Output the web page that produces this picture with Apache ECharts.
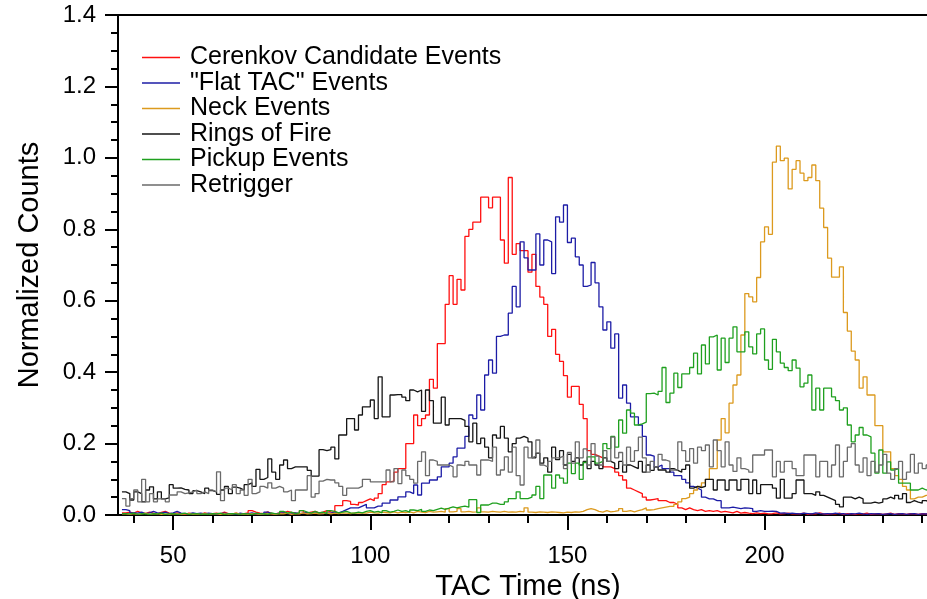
<!DOCTYPE html>
<html>
<head>
<meta charset="utf-8">
<script src="https://cdn.jsdelivr.net/npm/echarts@6/dist/echarts.min.js"></script>
<style>html,body{margin:0;padding:0;background:#fff}#c{width:927px;height:599px}</style>
</head>
<body>
<div id="c"></div>
<script>
// Histogram bins: 1 ns wide, first bin starts at 37 ns
const firstBin = 37;
const seriesNames = ['Cerenkov Candidate Events', '"Flat TAC" Events', 'Neck Events', 'Rings of Fire', 'Pickup Events', 'Retrigger'];
const xMajorTicks = [50, 100, 150, 200];
const xMinorTicks = [40, 60, 70, 80, 90, 110, 120, 130, 140, 160, 170, 180, 190, 210, 220, 230, 240];

const cerenkov = [
0.006,0.008,0.005,0.010,0.006,0.004,0.008,0.005,0.004,0.007,
0.010,0.005,0.003,0.006,0.004,0.002,0.005,0.003,0.004,0.002,
0.006,0.003,0.004,0.005,0.003,0.008,0.004,0.003,0.005,0.002,
0.004,0.006,0.012,0.008,0.005,0.004,0.009,0.004,0.003,0.006,
0.005,0.010,0.007,0.005,0.004,0.012,0.006,0.008,0.010,0.006,
0.008,0.012,0.009,0.007,0.026,0.026,0.040,0.038,0.030,0.028,
0.035,0.040,0.045,0.040,0.047,0.060,0.085,0.093,0.095,0.120,
0.130,0.130,0.200,0.200,0.280,0.250,0.270,0.280,0.380,0.355,
0.480,0.480,0.590,0.670,0.590,0.660,0.630,0.780,0.800,0.820,
0.820,0.890,0.890,0.860,0.890,0.890,0.770,0.705,0.945,0.730,
0.760,0.740,0.740,0.680,0.730,0.640,0.610,0.590,0.500,0.520,
0.450,0.430,0.390,0.330,0.360,0.360,0.310,0.270,0.180,0.170,
0.165,0.160,0.135,0.135,0.130,0.120,0.110,0.098,0.075,0.070,
0.065,0.060,0.050,0.042,0.044,0.046,0.040,0.040,0.035,0.035,
0.030,0.020,0.015,0.020,0.015,0.012,0.015,0.010,0.012,0.010,
0.012,0.008,0.010,0.008,0.006,0.010,0.005,0.007,0.005,0.004,
0.006,0.004,0.005,0.003,0.004,0.006,0.003,0.004,0.005,0.003,
0.004,0.003,0.005,0.002,0.004,0.003,0.006,0.003,0.002,0.004,
0.003,0.005,0.002,0.004,0.003,0.002,0.004,0.003,0.005,0.002,
0.003,0.004,0.002,0.003,0.005,0.002,0.004,0.003,0.002,0.004,
0.003,0.002,0.004,0.003,0.002];

const flatTac = [
0.015,0.012,0.006,0.005,0.008,0.004,0.006,0.010,0.006,0.005,
0.008,0.004,0.006,0.010,0.005,0.004,0.003,0.006,0.004,0.005,
0.003,0.005,0.004,0.002,0.004,0.005,0.003,0.004,0.002,0.005,
0.003,0.004,0.006,0.003,0.004,0.002,0.008,0.004,0.003,0.005,
0.006,0.004,0.003,0.006,0.004,0.005,0.007,0.004,0.006,0.005,
0.004,0.006,0.005,0.008,0.006,0.010,0.015,0.020,0.020,0.020,
0.025,0.030,0.020,0.020,0.025,0.025,0.033,0.033,0.042,0.042,
0.051,0.051,0.065,0.060,0.084,0.056,0.089,0.089,0.098,0.098,
0.107,0.135,0.135,0.145,0.163,0.187,0.187,0.220,0.280,0.270,
0.336,0.294,0.392,0.434,0.397,0.500,0.504,0.504,0.565,0.640,
0.583,0.765,0.720,0.686,0.686,0.787,0.700,0.770,0.765,0.676,
0.835,0.820,0.868,0.763,0.775,0.723,0.700,0.640,0.644,0.707,
0.650,0.583,0.518,0.541,0.467,0.507,0.327,0.364,0.313,0.275,
0.275,0.252,0.220,0.168,0.165,0.135,0.140,0.130,0.130,0.120,
0.110,0.110,0.100,0.090,0.080,0.075,0.070,0.050,0.045,0.045,
0.040,0.040,0.020,0.020,0.022,0.020,0.018,0.020,0.019,0.018,
0.010,0.012,0.010,0.010,0.011,0.010,0.005,0.006,0.004,0.005,
0.004,0.003,0.005,0.004,0.003,0.006,0.004,0.003,0.004,0.003,
0.005,0.003,0.004,0.002,0.004,0.003,0.005,0.003,0.002,0.004,
0.003,0.004,0.002,0.003,0.004,0.002,0.003,0.004,0.002,0.003,
0.004,0.002,0.003,0.003,0.002];

const neck = [
0.003,0.002,0.004,0.002,0.003,0.005,0.002,0.003,0.004,0.002,
0.003,0.002,0.004,0.003,0.002,0.003,0.004,0.002,0.003,0.002,
0.004,0.002,0.003,0.003,0.002,0.004,0.002,0.003,0.005,0.002,
0.003,0.002,0.004,0.003,0.002,0.003,0.004,0.003,0.002,0.004,
0.003,0.005,0.002,0.004,0.003,0.006,0.003,0.004,0.005,0.003,
0.004,0.006,0.003,0.005,0.004,0.006,0.005,0.004,0.006,0.005,
0.006,0.005,0.008,0.006,0.005,0.008,0.007,0.006,0.009,0.006,
0.008,0.007,0.009,0.006,0.010,0.008,0.007,0.010,0.008,0.009,
0.010,0.008,0.018,0.009,0.010,0.018,0.009,0.010,0.008,0.009,
0.020,0.009,0.008,0.010,0.009,0.008,0.010,0.008,0.009,0.008,
0.010,0.009,0.020,0.008,0.007,0.009,0.008,0.007,0.009,0.008,
0.007,0.006,0.008,0.007,0.009,0.008,0.010,0.015,0.018,0.015,
0.010,0.008,0.012,0.009,0.010,0.012,0.018,0.010,0.012,0.009,
0.012,0.015,0.020,0.014,0.015,0.018,0.020,0.022,0.024,0.024,
0.030,0.037,0.046,0.050,0.060,0.070,0.080,0.090,0.100,0.130,
0.130,0.210,0.270,0.230,0.313,0.364,0.392,0.504,0.620,0.611,
0.597,0.665,0.765,0.807,0.786,0.988,1.033,0.992,0.999,0.913,
0.968,0.992,0.957,0.936,0.945,0.980,0.936,0.859,0.805,0.719,
0.666,0.666,0.695,0.567,0.515,0.459,0.434,0.355,0.387,0.336,
0.336,0.250,0.250,0.177,0.177,0.130,0.110,0.100,0.080,0.070,
0.045,0.050,0.050,0.055,0.055];

const ringsOfFire = [
0.065,0.060,0.042,0.065,0.060,0.037,0.070,0.079,0.045,0.065,
0.045,0.048,0.085,0.075,0.076,0.072,0.070,0.060,0.068,0.065,
0.060,0.075,0.068,0.065,0.058,0.070,0.080,0.060,0.078,0.075,
0.070,0.085,0.090,0.080,0.128,0.100,0.105,0.157,0.120,0.100,
0.140,0.154,0.130,0.135,0.135,0.135,0.135,0.125,0.109,0.109,
0.183,0.180,0.183,0.190,0.157,0.224,0.224,0.270,0.270,0.238,
0.280,0.303,0.303,0.322,0.270,0.387,0.275,0.275,0.336,0.337,
0.337,0.330,0.320,0.350,0.345,0.350,0.290,0.350,0.320,0.257,
0.257,0.330,0.252,0.270,0.270,0.270,0.265,0.248,0.205,0.257,
0.200,0.215,0.190,0.160,0.224,0.215,0.248,0.215,0.177,0.200,
0.215,0.220,0.215,0.205,0.160,0.173,0.145,0.160,0.120,0.190,
0.155,0.180,0.140,0.170,0.150,0.160,0.140,0.150,0.130,0.150,
0.140,0.130,0.160,0.150,0.145,0.130,0.150,0.120,0.140,0.135,
0.130,0.150,0.120,0.140,0.125,0.135,0.126,0.126,0.120,0.130,
0.125,0.120,0.128,0.140,0.075,0.080,0.077,0.080,0.100,0.100,
0.070,0.098,0.098,0.070,0.098,0.098,0.070,0.100,0.100,0.060,
0.098,0.060,0.085,0.085,0.085,0.075,0.047,0.100,0.047,0.047,
0.060,0.098,0.098,0.060,0.060,0.055,0.065,0.055,0.050,0.045,
0.040,0.030,0.023,0.050,0.050,0.045,0.050,0.045,0.033,0.033,
0.036,0.033,0.036,0.045,0.050,0.045,0.055,0.045,0.060,0.035,
0.040,0.036,0.033,0.040,0.036];

const pickup = [
0.004,0.003,0.005,0.002,0.004,0.003,0.002,0.004,0.003,0.005,
0.002,0.003,0.004,0.002,0.003,0.005,0.002,0.003,0.004,0.002,
0.003,0.002,0.004,0.003,0.005,0.002,0.003,0.004,0.003,0.002,
0.004,0.003,0.002,0.005,0.003,0.004,0.002,0.006,0.003,0.004,
0.010,0.005,0.008,0.004,0.006,0.012,0.008,0.005,0.010,0.006,
0.008,0.004,0.012,0.010,0.006,0.008,0.010,0.006,0.005,0.008,
0.006,0.010,0.012,0.008,0.010,0.006,0.012,0.008,0.010,0.014,
0.010,0.012,0.008,0.014,0.012,0.016,0.010,0.014,0.012,0.016,
0.019,0.016,0.019,0.023,0.020,0.023,0.025,0.022,0.043,0.043,
0.007,0.028,0.028,0.033,0.033,0.030,0.030,0.037,0.046,0.046,
0.065,0.046,0.046,0.050,0.056,0.080,0.046,0.112,0.112,0.075,
0.112,0.103,0.089,0.145,0.116,0.145,0.100,0.147,0.163,0.163,
0.145,0.150,0.200,0.186,0.220,0.190,0.266,0.229,0.294,0.285,
0.252,0.255,0.260,0.340,0.341,0.336,0.346,0.413,0.315,0.341,
0.397,0.357,0.395,0.395,0.413,0.453,0.395,0.476,0.423,0.499,
0.504,0.406,0.495,0.427,0.495,0.527,0.457,0.457,0.513,0.471,
0.451,0.507,0.521,0.434,0.408,0.492,0.457,0.425,0.413,0.404,
0.434,0.411,0.359,0.369,0.392,0.294,0.355,0.294,0.355,0.355,
0.331,0.320,0.294,0.300,0.252,0.205,0.224,0.245,0.224,0.219,
0.173,0.117,0.182,0.117,0.149,0.126,0.130,0.089,0.089,0.089,
0.070,0.070,0.075,0.070,0.072];

const retrigger = [
0.046,0.025,0.046,0.070,0.037,0.100,0.037,0.060,0.037,0.045,
0.045,0.037,0.056,0.056,0.065,0.060,0.062,0.065,0.070,0.060,
0.065,0.060,0.070,0.065,0.121,0.040,0.075,0.070,0.085,0.060,
0.070,0.055,0.100,0.060,0.065,0.080,0.075,0.090,0.075,0.080,
0.075,0.065,0.070,0.040,0.070,0.070,0.070,0.110,0.050,0.060,
0.095,0.100,0.098,0.098,0.090,0.080,0.055,0.075,0.075,0.075,
0.080,0.100,0.100,0.093,0.093,0.093,0.093,0.126,0.093,0.130,
0.088,0.126,0.110,0.100,0.089,0.150,0.177,0.110,0.154,0.150,
0.140,0.140,0.140,0.135,0.107,0.140,0.138,0.150,0.140,0.140,
0.112,0.154,0.154,0.150,0.190,0.112,0.126,0.163,0.120,0.190,
0.110,0.084,0.190,0.160,0.165,0.210,0.140,0.135,0.150,0.160,
0.160,0.165,0.130,0.175,0.145,0.205,0.160,0.185,0.140,0.200,
0.165,0.140,0.180,0.150,0.218,0.160,0.175,0.140,0.190,0.150,
0.180,0.218,0.160,0.120,0.150,0.135,0.170,0.154,0.150,0.126,
0.126,0.205,0.180,0.150,0.186,0.145,0.190,0.180,0.196,0.135,
0.210,0.180,0.135,0.205,0.140,0.122,0.160,0.130,0.126,0.120,
0.168,0.168,0.168,0.182,0.182,0.107,0.150,0.120,0.150,0.150,
0.130,0.110,0.110,0.168,0.168,0.168,0.107,0.150,0.150,0.107,
0.140,0.196,0.107,0.150,0.190,0.200,0.140,0.120,0.160,0.110,
0.150,0.120,0.140,0.170,0.117,0.100,0.130,0.150,0.100,0.120,
0.170,0.117,0.145,0.130,0.140];

const colors = ['#ff1010', '#1c1ca6', '#dc9a1e', '#151515', '#1fa01f', '#6a6a6a'];
const allValues = [cerenkov, flatTac, neck, ringsOfFire, pickup, retrigger];

function toSteps(vals) {
  const pts = vals.map((v, i) => [firstBin + i, v]);
  pts.push([firstBin + vals.length, vals[vals.length - 1]]);
  return pts;
}

const FONT = '"Liberation Sans", Arial, Helvetica, sans-serif';
const chart = echarts.init(document.getElementById('c'), null, { renderer: 'canvas' });

chart.setOption({
  animation: false,
  backgroundColor: '#fff',
  textStyle: { fontFamily: FONT, color: '#000' },
  grid: { left: 118, top: 15, right: -11, bottom: 84, outerBoundsMode: 'none', containLabel: false,
          show: true, borderColor: '#000', borderWidth: 2, backgroundColor: 'transparent' },
  legend: {
    orient: 'vertical', left: 142, top: 45, padding: 0,
    icon: 'rect', itemWidth: 38, itemHeight: 1.5, itemGap: 0.5,
    textStyle: { fontFamily: FONT, fontSize: 25, color: '#000', lineHeight: 25, padding: [0, 0, 0, 5] },
    data: seriesNames
  },
  xAxis: [{
    type: 'value', min: 36, max: 244, position: 'bottom',
    name: 'TAC Time (ns)', nameLocation: 'middle', nameGap: 48,
    nameTextStyle: { fontFamily: FONT, fontSize: 29, color: '#000' },
    axisLine: { show: true, onZero: false, lineStyle: { color: '#000', width: 2 } },
    axisTick: { show: true, inside: false, length: 15, customValues: xMajorTicks, lineStyle: { color: '#000', width: 2 } },
    axisLabel: { show: true, customValues: xMajorTicks, margin: 29, fontFamily: FONT, fontSize: 24, color: '#000' },
    splitLine: { show: false }
  }, {
    type: 'value', min: 36, max: 244, position: 'bottom',
    axisLine: { show: false, onZero: false },
    axisTick: { show: true, inside: false, length: 8, customValues: xMinorTicks, lineStyle: { color: '#000', width: 2 } },
    axisLabel: { show: false },
    splitLine: { show: false }
  }],
  yAxis: {
    type: 'value', min: 0, max: 1.4, interval: 0.2,
    name: 'Normalized Counts', nameLocation: 'middle', nameGap: 74,
    nameTextStyle: { fontFamily: FONT, fontSize: 29, color: '#000' },
    axisLine: { show: true, lineStyle: { color: '#000', width: 2 } },
    axisTick: { show: true, inside: false, length: 13, lineStyle: { color: '#000', width: 2 } },
    minorTick: { show: true, splitNumber: 4, length: 7, lineStyle: { color: '#000', width: 2 } },
    axisLabel: { margin: 22, fontFamily: FONT, fontSize: 24, color: '#000', formatter: v => v.toFixed(1) },
    splitLine: { show: false }, minorSplitLine: { show: false }
  },
  series: seriesNames.map((name, k) => ({
    name, type: 'line', step: 'end', xAxisIndex: 0,
    data: toSteps(allValues[k]),
    symbol: 'none', showSymbol: false,
    lineStyle: { color: colors[k], width: 1.3 },
    itemStyle: { color: colors[k] },
    clip: true
  }))
});
</script>
</body>
</html>
